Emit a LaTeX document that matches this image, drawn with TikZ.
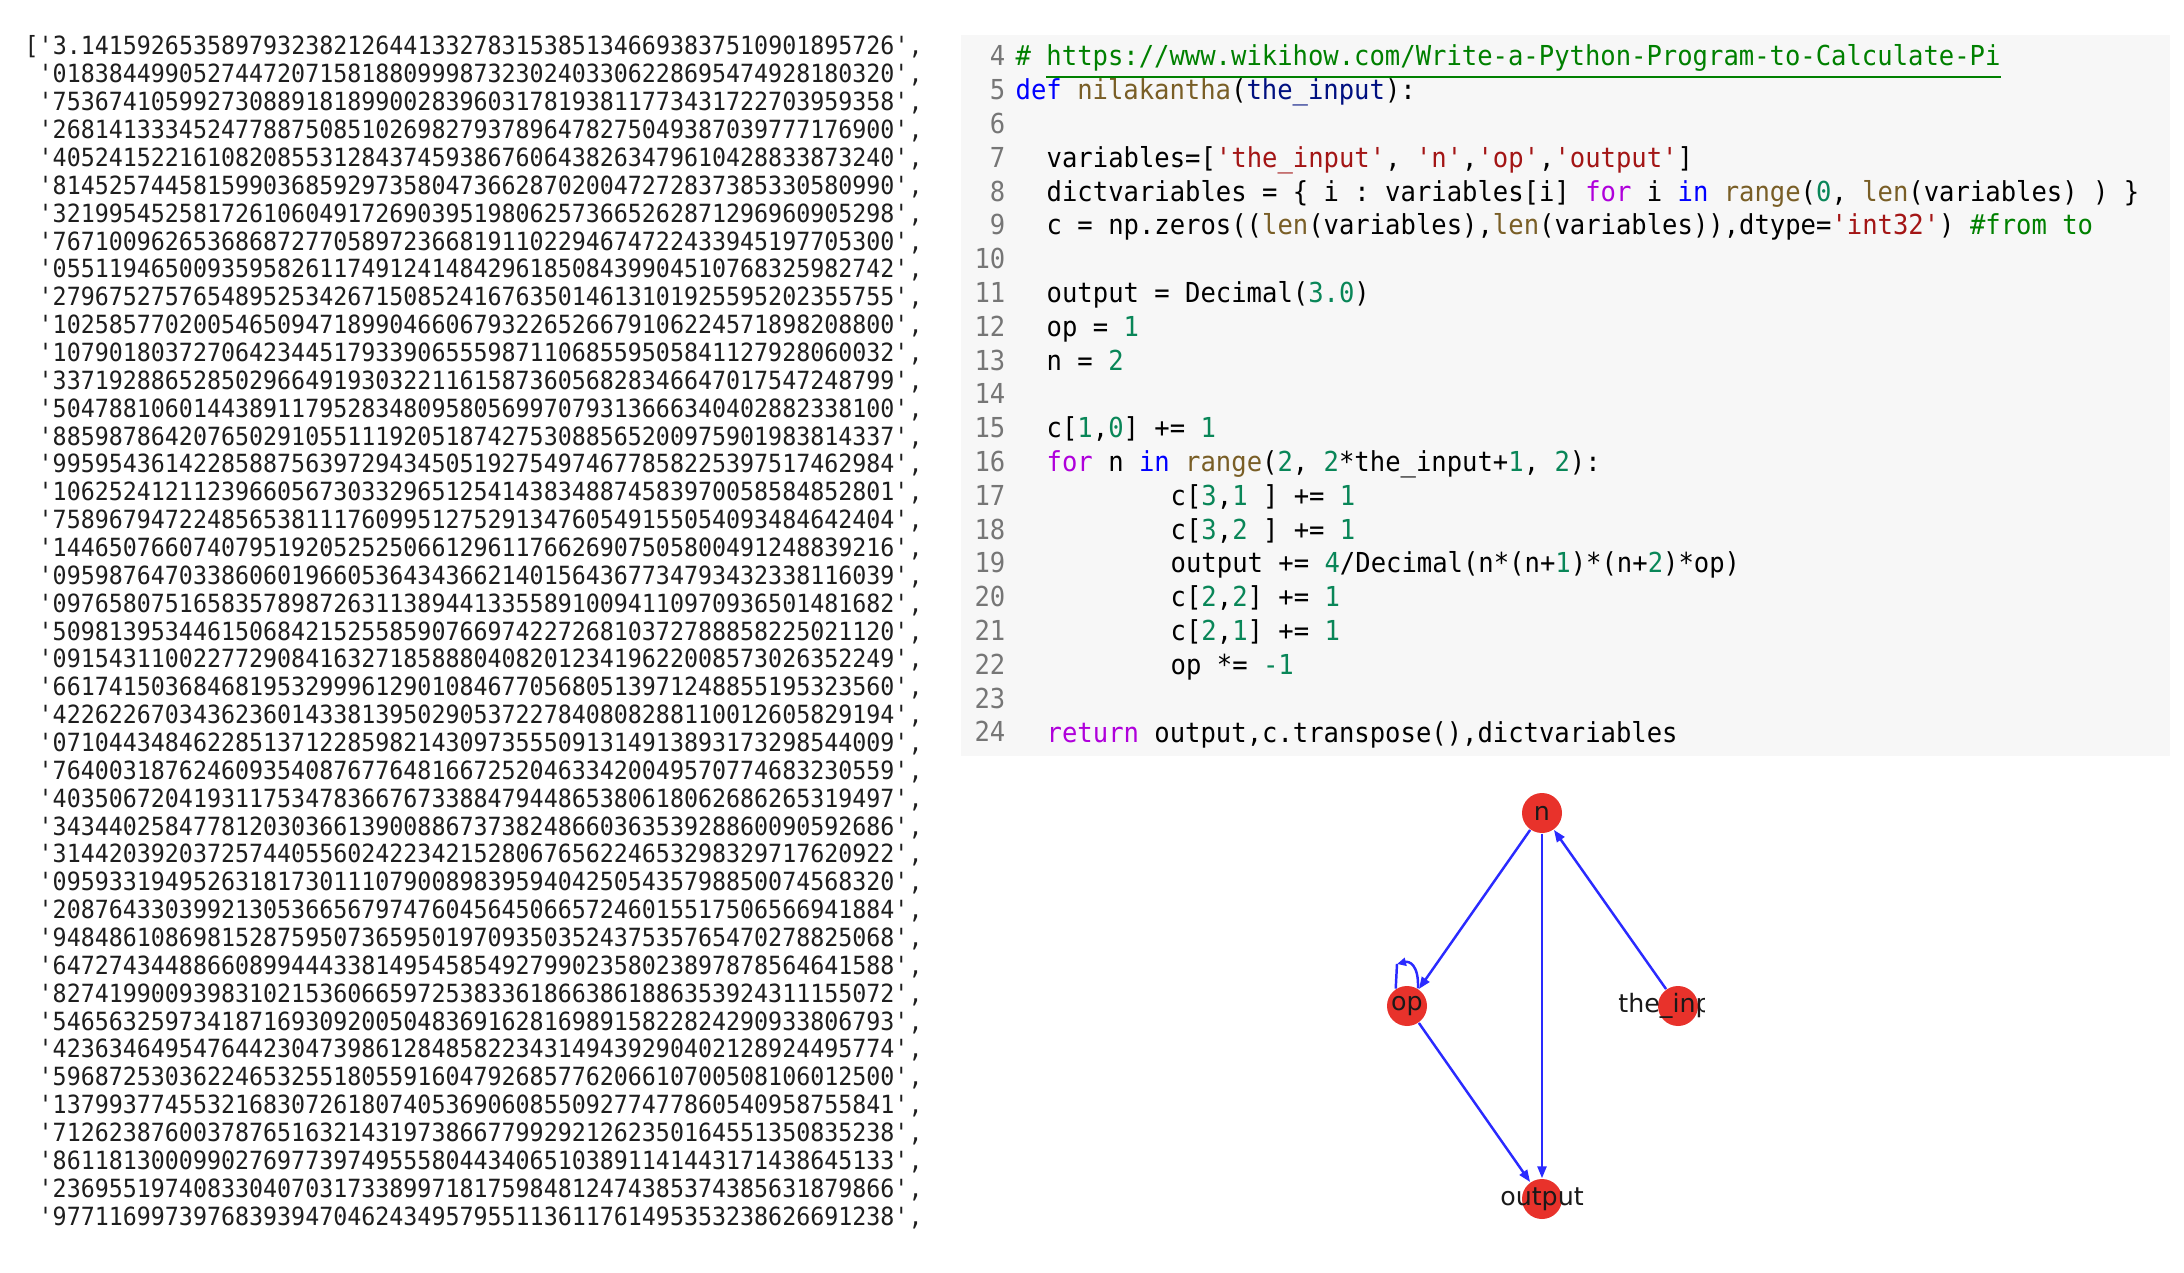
\documentclass[tikz,border=0pt]{standalone}
\usepackage{fontspec}
\setmonofont[FakeStretch=0.93]{DejaVu Sans Mono}
\newfontfamily\graphfont{DejaVu Sans}
\usetikzlibrary{arrows.meta}

\definecolor{panelgray}{HTML}{F7F7F7}
\definecolor{digitblack}{HTML}{1E1E1E}
\definecolor{kwblue}{HTML}{0000FF}
\definecolor{kwpurple}{HTML}{AF00DB}
\definecolor{fnbrown}{HTML}{795E26}
\definecolor{prmblue}{HTML}{001080}
\definecolor{strred}{HTML}{A31515}
\definecolor{numgreen}{HTML}{098658}
\definecolor{cmtgreen}{HTML}{008000}
\definecolor{linegray}{HTML}{767676}
\definecolor{nodered}{HTML}{E8322B}
\definecolor{edgeblue}{HTML}{2A2AFF}

\newcommand\kwb[1]{\textcolor{kwblue}{#1}}
\newcommand\kwp[1]{\textcolor{kwpurple}{#1}}
\newcommand\fn[1]{\textcolor{fnbrown}{#1}}
\newcommand\prm[1]{\textcolor{prmblue}{#1}}
\newcommand\strg[1]{\textcolor{strred}{#1}}
\newcommand\nm[1]{\textcolor{numgreen}{#1}}
\newcommand\cmt[1]{\textcolor{cmtgreen}{#1}}

\tikzset{
  numline/.style={anchor=base west, inner sep=0, text=digitblack,
    font=\ttfamily\fontsize{7.13}{8}\selectfont},
  code/.style={anchor=base west, inner sep=0, text=black,
    font=\ttfamily\fontsize{7.82}{9}\selectfont},
  lineno/.style={anchor=base east, inner sep=0, text=linegray,
    font=\ttfamily\fontsize{7.82}{9}\selectfont},
  vnode/.style={circle, fill=nodered, minimum size=4mm, inner sep=0},
  lbl/.style={inner sep=0, text=black!90, font=\graphfont\fontsize{7.2}{8}\selectfont},
  flow/.style={draw=edgeblue, line width=0.7pt, -{Triangle[length=1.2mm,width=0.9mm]}},
  flowline/.style={draw=edgeblue, line width=0.7pt}
}

\begin{document}
\begin{tikzpicture}
  \fill[white] (0,0) rectangle (21.84,12.72);
  \useasboundingbox (0,0) rectangle (21.84,12.72);

  % printed digits
  \node[numline] (row1) at (0.24,12.17) {['3.1415926535897932382126441332783153851346693837510901895726',};
  \foreach \digits [count=\i from 2] in {
    018384499052744720715818809998732302403306228695474928180320,
    753674105992730889181899002839603178193811773431722703959358,
    268141333452477887508510269827937896478275049387039777176900,
    405241522161082085531284374593867606438263479610428833873240,
    814525744581599036859297358047366287020047272837385330580990,
    321995452581726106049172690395198062573665262871296960905298,
    767100962653686872770589723668191102294674722433945197705300,
    055119465009359582611749124148429618508439904510768325982742,
    279675275765489525342671508524167635014613101925595202355755,
    102585770200546509471899046606793226526679106224571898208800,
    107901803727064234451793390655598711068559505841127928060032,
    337192886528502966491930322116158736056828346647017547248799,
    504788106014438911795283480958056997079313666340402882338100,
    885987864207650291055111920518742753088565200975901983814337,
    995954361422858875639729434505192754974677858225397517462984,
    106252412112396605673033296512541438348874583970058584852801,
    758967947224856538111760995127529134760549155054093484642404,
    144650766074079519205252506612961176626907505800491248839216,
    095987647033860601966053643436621401564367734793432338116039,
    097658075165835789872631138944133558910094110970936501481682,
    509813953446150684215255859076697422726810372788858225021120,
    091543110022772908416327185888040820123419622008573026352249,
    661741503684681953299961290108467705680513971248855195323560,
    422622670343623601433813950290537227840808288110012605829194,
    071044348462285137122859821430973555091314913893173298544009,
    764003187624609354087677648166725204633420049570774683230559,
    403506720419311753478366767338847944865380618062686265319497,
    343440258477812030366139008867373824866036353928860090592686,
    314420392037257440556024223421528067656224653298329717620922,
    095933194952631817301110790089839594042505435798850074568320,
    208764330399213053665679747604564506657246015517506566941884,
    948486108698152875950736595019709350352437535765470278825068,
    647274344886608994443381495458549279902358023897878564641588,
    827419900939831021536066597253833618663861886353924311155072,
    546563259734187169309200504836916281698915822824290933806793,
    423634649547644230473986128485822343149439290402128924495774,
    596872530362246532551805591604792685776206610700508106012500,
    137993774553216830726180740536906085509277477860540958755841,
    712623876003787651632143197386677992921262350164551350835238,
    861181300099027697739749555804434065103891141443171438645133,
    236955197408330407031733899718175984812474385374385631879866,
    977116997397683939470462434957955113611761495353238626691238}
    \node[numline] (row\i) at (0.38,{12.17-0.2786*(\i-1)}) {'\digits',};

  % code cell
  \fill[panelgray] (9.61,5.16) rectangle (21.70,12.37);
  \foreach \k in {4,...,24}
    \node[lineno] (ln\k) at (10.06,{12.06-0.338*(\k-4)}) {\k};

  \node[code] (c4) at (10.15,12.060) {\cmt{\# \underline{https://www.wikihow.com/Write-a-Python-Program-to-Calculate-Pi}}};
  \node[code] (c5) at (10.15,11.722) {\kwb{def} \fn{nilakantha}(\prm{the\_input}):};
  \node[code] (c7) at (10.46,11.046) {variables=[\strg{'the\_input'}, \strg{'n'},\strg{'op'},\strg{'output'}]};
  \node[code] (c8) at (10.46,10.708) {dictvariables = \{ i : variables[i] \kwp{for} i \kwb{in} \fn{range}(\nm{0}, \fn{len}(variables) ) \}};
  \node[code] (c9) at (10.46,10.370) {c = np.zeros((\fn{len}(variables),\fn{len}(variables)),dtype=\strg{'int32'}) \cmt{\#from to}};
  \node[code] (c11) at (10.46,9.694) {output = Decimal(\nm{3.0})};
  \node[code] (c12) at (10.46,9.356) {op = \nm{1}};
  \node[code] (c13) at (10.46,9.018) {n = \nm{2}};
  \node[code] (c15) at (10.46,8.342) {c[\nm{1},\nm{0}] += \nm{1}};
  \node[code] (c16) at (10.46,8.004) {\kwp{for} n \kwb{in} \fn{range}(\nm{2}, \nm{2}*the\_input+\nm{1}, \nm{2}):};
  \node[code] (c17) at (11.70,7.666) {c[\nm{3},\nm{1} ] += \nm{1}};
  \node[code] (c18) at (11.70,7.328) {c[\nm{3},\nm{2} ] += \nm{1}};
  \node[code] (c19) at (11.70,6.990) {output += \nm{4}/Decimal(n*(n+\nm{1})*(n+\nm{2})*op)};
  \node[code] (c20) at (11.70,6.652) {c[\nm{2},\nm{2}] += \nm{1}};
  \node[code] (c21) at (11.70,6.314) {c[\nm{2},\nm{1}] += \nm{1}};
  \node[code] (c22) at (11.70,5.976) {op *= \nm{-1}};
  \node[code] (c24) at (10.46,5.300) {\kwp{return} output,c.transpose(),dictvariables};

  % variable graph
  \node[vnode] (n) at (15.42,4.59) {};
  \node[vnode] (op) at (14.07,2.66) {};
  \node[vnode] (theinput) at (16.78,2.66) {};
  \node[vnode] (output) at (15.42,0.73) {};

  \draw[flow] (n) -- (op);
  \draw[flow] (n) -- (output);
  \draw[flow] (theinput) -- (n);
  \draw[flow] (op) -- (output);
  \coordinate (looptip) at (13.97,3.08);
  \draw[flowline, -{Triangle[length=0.9mm,width=0.8mm]}] (op.58) .. controls +(0.01,0.24) and +(0.12,0.03) .. (looptip);
  \draw[flowline] (looptip) -- (op.123);

  \begin{scope}
    \clip (0,0) rectangle (17.04,12.72);
    \node[lbl] (l-n) at (n) {n};
    \node[lbl] (l-op) at (op) {op};
    \node[lbl] (l-theinput) at (theinput) {the\_input};
    \node[lbl] (l-output) at (output) {output};
  \end{scope}
\end{tikzpicture}
\end{document}
